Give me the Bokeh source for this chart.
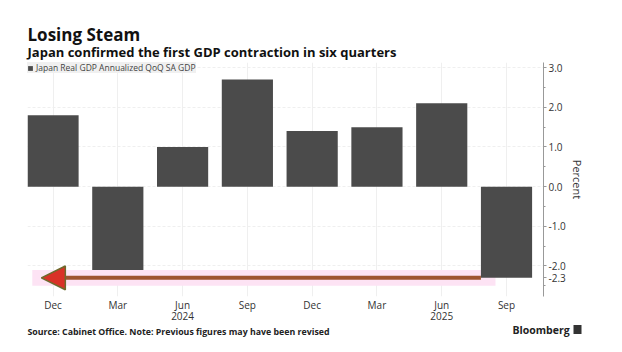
from bokeh.plotting import figure
from bokeh.layouts import column
from bokeh.models import (FixedTicker, NumeralTickFormatter, Range1d, LinearAxis)
from bokeh.core.properties import value
from bokeh.embed import file_html
from bokeh.resources import INLINE

# ---- data ----
months = ["Dec", "Mar", "Jun", "Sep", "Dec", "Mar", "Jun", "Sep"]
years = ["2023", "2024", "2024", "2024", "2024", "2025", "2025", "2025"]
gdp = [1.8, -2.1, 1.0, 2.7, 1.4, 1.5, 2.1, -2.3]
y_ticks = [-2, -1, 0, 1, 2, 3]
y_minor = [-2.5, -1.5, -0.5, 0.5, 1.5, 2.5]
series_name = "Japan Real GDP Annualized QoQ SA GDP"
title = "Losing Steam"
subtitle = "Japan confirmed the first GDP contraction in six quarters"
source = "Source: Cabinet Office. Note: Previous figures may have been revised"
brand = "Bloomberg"

# ---- layout ----
W = 622
HEAD_H, MAIN_H, FOOT_H = 60, 262, 30
L, R = 27, 543
FRAME_TOP, FRAME_BOTTOM = 62 - HEAD_H, 298 - HEAD_H
X0, X1 = -0.394, 7.571
Y0, Y1 = -2.77, 3.13
FONT = "Open Sans"


def text_strip(height):
    f = figure(width=W, height=height, output_backend="svg", toolbar_location=None,
               x_range=Range1d(0, W), y_range=Range1d(height, 0),
               x_axis_type=None, y_axis_type=None,
               min_border=0, min_border_left=0, min_border_right=0,
               min_border_top=0, min_border_bottom=0, frame_align=False)
    f.outline_line_color = None
    f.xgrid.visible = False
    f.ygrid.visible = False
    f.background_fill_color = "white"
    f.border_fill_color = "white"
    return f


# header
head = text_strip(HEAD_H)
head.text(x=[27], y=[34], text=[title], text_font=value(FONT),
          text_font_size="17px", text_font_style="bold", text_color="#111111",
          text_baseline="middle")
head.text(x=[27], y=[51], text=[subtitle], text_font=value(FONT),
          text_font_size="13px", text_font_style="bold", text_color="#111111",
          text_baseline="middle")

# main chart
xs = list(range(len(gdp)))
last = gdp[-1]
bar_w = 0.79

p = figure(width=W, height=MAIN_H, output_backend="svg", toolbar_location=None,
           x_range=Range1d(X0, X1), y_range=Range1d(Y0, Y1),
           y_axis_location="right", frame_align=False,
           min_border_left=L, min_border_right=W - R,
           min_border_top=FRAME_TOP, min_border_bottom=MAIN_H - FRAME_BOTTOM)
p.outline_line_color = None
p.background_fill_color = "white"
p.border_fill_color = "white"

p.xgrid.ticker = FixedTicker(ticks=xs)
p.xgrid.grid_line_color = "#efefef"
p.ygrid.ticker = FixedTicker(ticks=y_ticks)
p.ygrid.grid_line_color = "#efefef"
p.ygrid.grid_line_dash = "3 2"

# highlight band, bars, arrow pointing from the latest value back to the start
p.quad(left=[xs[0] - 0.32], right=[xs[-1] - 0.17],
       bottom=[last - 0.2], top=[last + 0.2],
       fill_color="#fde3f4", line_color=None)
p.vbar(x=xs, top=gdp, bottom=0, width=bar_w,
       fill_color="#4b4b4b", line_color=None, legend_label=series_name)
p.line(x=[xs[-1] - bar_w / 2, xs[0] + 0.19], y=[last, last],
       line_color="#9e5530", line_width=4)
p.patch(x=[xs[0] - 0.18, xs[0] + 0.19, xs[0] + 0.19],
        y=[last, last + 0.3, last - 0.3],
        fill_color="#d93127", line_color="#6d6a2c", line_width=1.5)

# x axis: months
p.xaxis.ticker = FixedTicker(ticks=xs)
p.xaxis.major_label_overrides = {i: m for i, m in zip(xs, months)}
ax = p.xaxis[0]
ax.axis_line_color = None
ax.major_tick_line_color = None
ax.minor_tick_line_color = None
ax.major_tick_in = 0
ax.major_tick_out = 0
ax.minor_tick_in = 0
ax.minor_tick_out = 0
ax.major_label_text_font = FONT
ax.major_label_text_font_size = "10px"
ax.major_label_text_color = "#333333"
ax.major_label_standoff = 1

# x axis: years under the June ticks
year_ticks = [i for i, m in zip(xs, months) if m == "Jun"]
year_axis = LinearAxis(ticker=FixedTicker(ticks=year_ticks),
                       major_label_overrides={i: years[i] for i in year_ticks},
                       axis_line_color=None, major_tick_line_color=None,
                       minor_tick_line_color=None, major_tick_in=0, major_tick_out=0,
                       minor_tick_in=0, minor_tick_out=0,
                       major_label_text_font=FONT, major_label_text_font_size="10px",
                       major_label_text_color="#333333", major_label_standoff=-3)
p.add_layout(year_axis, "below")

# y axis (right), with the latest value marked
p.yaxis.ticker = FixedTicker(ticks=[last] + y_ticks, minor_ticks=y_minor)
p.yaxis.formatter = NumeralTickFormatter(format="0.0")
p.yaxis.axis_line_color = "#999999"
p.yaxis.major_tick_line_color = "#999999"
p.yaxis.minor_tick_line_color = "#999999"
p.yaxis.major_tick_in = 0
p.yaxis.major_tick_out = 3
p.yaxis.minor_tick_in = 0
p.yaxis.minor_tick_out = 2
p.yaxis.major_label_text_font = FONT
p.yaxis.major_label_text_font_size = "10px"
p.yaxis.major_label_text_color = "#333333"
p.yaxis.major_label_standoff = 2
p.yaxis.axis_label = "Percent"
p.yaxis.axis_label_text_font = FONT
p.yaxis.axis_label_text_font_size = "11px"
p.yaxis.axis_label_text_font_style = "normal"
p.yaxis.axis_label_text_color = "#333333"
p.yaxis.axis_label_standoff = 1

# legend
lg = p.legend[0]
lg.location = "top_left"
lg.margin = 0
lg.padding = 4
lg.spacing = 0
lg.label_text_font = FONT
lg.label_text_font_size = "8.5px"
lg.label_text_color = "#444444"
lg.glyph_width = 6
lg.glyph_height = 6
lg.label_height = 8
lg.label_standoff = 3
lg.background_fill_color = "#f0f0f0"
lg.background_fill_alpha = 1
lg.border_line_color = None

# footer
foot = text_strip(FOOT_H)
foot.text(x=[27], y=[9], text=[source], text_font=value(FONT),
          text_font_size="8.8px", text_font_style="bold", text_color="#222222",
          text_baseline="middle")
foot.text(x=[512], y=[7], text=[brand], text_font=value(FONT),
          text_font_size="10.5px", text_font_style="bold", text_color="#222222",
          text_baseline="middle")
foot.rect(x=[577], y=[7], width=8, height=9, fill_color="#333333", line_color=None)

layout = column(head, p, foot, spacing=0)
open("out.html", "w").write(file_html(layout, INLINE))
